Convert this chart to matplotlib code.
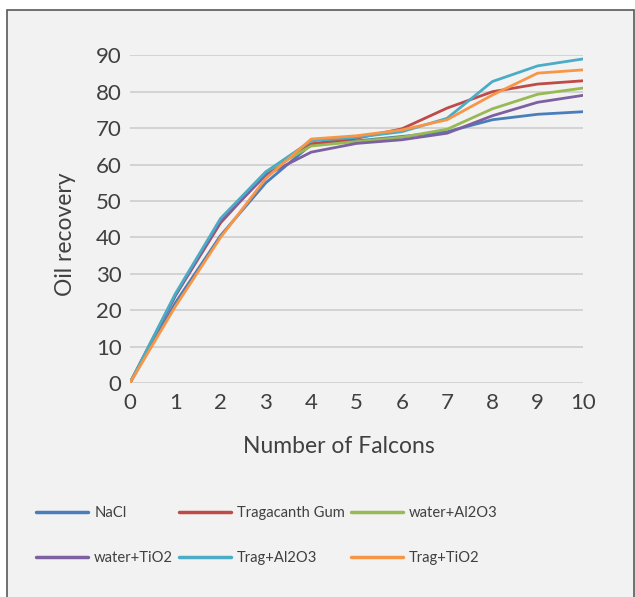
import matplotlib
matplotlib.use("Agg")
import matplotlib.pyplot as plt
from matplotlib.patches import Rectangle

plt.rcParams['font.family'] = ['Lato', 'DejaVu Sans']

x = [0, 1, 2, 3, 4, 5, 6, 7, 8, 9, 10]
nacl = [0, 22.0, 40.5, 55.0, 65.5, 66.5, 67.7, 69.0, 72.3, 73.8, 74.5]
trag_gum = [0, 24.0, 44.0, 57.5, 65.7, 67.2, 69.8, 75.5, 80.0, 82.1, 83.0]
water_al2o3 = [0, 24.0, 45.0, 58.0, 65.1, 66.3, 67.5, 69.7, 75.3, 79.3, 81.0]
water_tio2 = [0, 24.0, 44.5, 57.1, 63.4, 65.8, 66.8, 68.6, 73.4, 77.1, 79.0]
trag_al2o3 = [0, 24.5, 45.2, 58.0, 66.5, 67.5, 69.0, 72.7, 82.8, 87.1, 89.0]
trag_tio2 = [0, 21.0, 40.0, 56.2, 67.0, 67.9, 69.5, 72.3, 79.1, 85.1, 86.0]

series = [
    ("NaCl", nacl, "#4a7ebb"),
    ("Tragacanth Gum", trag_gum, "#be4b48"),
    ("water+Al2O3", water_al2o3, "#98b954"),
    ("water+TiO2", water_tio2, "#7d60a0"),
    ("Trag+Al2O3", trag_al2o3, "#4bacc6"),
    ("Trag+TiO2", trag_tio2, "#f79646"),
]
yticks = [0, 10, 20, 30, 40, 50, 60, 70, 80, 90]

W, H = 635, 597
fig = plt.figure(figsize=(W / 100, H / 100), dpi=100)
fig.patch.set_facecolor("white")
fig.patches.append(Rectangle((7 / W, -0.01), (634 - 7) / W, (H - 10) / H + 0.01,
                             transform=fig.transFigure, facecolor="#f2f2f2",
                             edgecolor="#595959", linewidth=1.2, zorder=-10))

ax = fig.add_axes([130 / W, (H - 383) / H, (583 - 130) / W, (383 - 55.3) / H])
ax.set_facecolor("none")
lines = {}
for name, vals, col in series:
    ln, = ax.plot(x, vals, color=col, linewidth=2.0, label=name,
                  solid_capstyle="round", zorder=3)
    lines[name] = ln

ax.set_xlim(0, 10)
ax.set_ylim(0, 90)
ax.set_xticks(x)
ax.set_yticks(yticks)
ax.grid(axis="y", color="#d0d0d0", linewidth=1.3)
ax.set_axisbelow(True)
for s in ax.spines.values():
    s.set_visible(False)
ax.tick_params(length=0, labelsize=16, labelcolor="#404040")
ax.tick_params(axis="y", pad=6)
ax.tick_params(axis="x", pad=7)
ax.set_xlabel("Number of Falcons", fontsize=16.5, color="#404040")
ax.set_ylabel("Oil recovery", fontsize=16.5, color="#404040")
ax.xaxis.set_label_coords((339 - 130) / 453, -(436 - 383) / (383 - 55.3))
ax.yaxis.set_label_coords(-(130 - 76) / 453, (383 - 234) / (383 - 55.3))

# row-wise legend order (matplotlib fills column by column)
order = ["NaCl", "water+TiO2", "Tragacanth Gum", "Trag+Al2O3", "water+Al2O3", "Trag+TiO2"]
fs = 10.6
leg = fig.legend([lines[n] for n in order], order, loc="upper left",
                 bbox_to_anchor=(23 / W, (H - 493) / H), ncol=3,
                 frameon=False, fontsize=fs, handlelength=52 / 1.389 / fs,
                 handletextpad=6 / 1.389 / fs, columnspacing=6 / 1.389 / fs,
                 labelspacing=2.1, labelcolor="#404040")
for line in leg.get_lines():
    line.set_linewidth(2.5)

fig.savefig("out.png", dpi=100, facecolor=fig.get_facecolor())
